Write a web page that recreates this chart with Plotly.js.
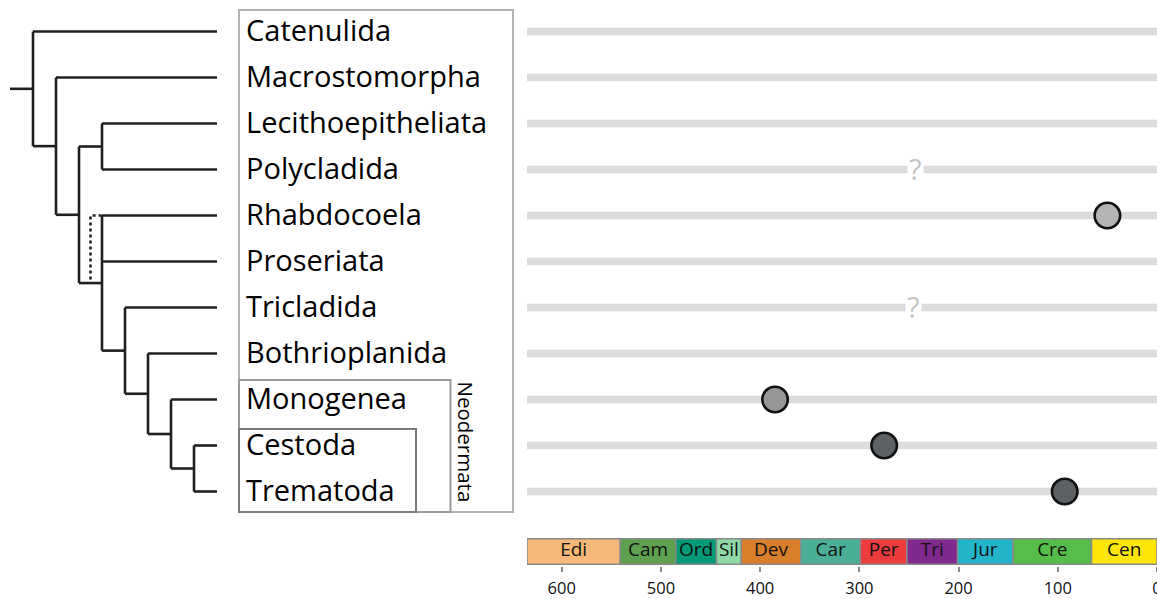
<!DOCTYPE html>
<html><head><meta charset="utf-8">
<script src="https://cdn.plot.ly/plotly-3.0.1.min.js"></script>
<style>html,body{margin:0;padding:0;background:#fff}#chart{width:1157px;height:599px}</style>
</head><body><div id="chart"></div>
<script>
// ---------------- data ----------------
const taxa = ['Catenulida','Macrostomorpha','Lecithoepitheliata','Polycladida','Rhabdocoela','Proseriata','Tricladida','Bothrioplanida','Monogenea','Cestoda','Trematoda'];

// tree topology: internal nodes, branching rank, children (first..last)
const nodeNames = ['A','B','C','D','E','F','G','H','I'];
const nodeLevels = [1,2,3,4,4,5,6,7,8];
const nodeChildren = [
  ['Catenulida','B'],
  ['Macrostomorpha','C'],
  ['D','E'],
  ['Lecithoepitheliata','Polycladida'],
  ['Rhabdocoela','Proseriata','F'],
  ['Tricladida','G'],
  ['Bothrioplanida','H'],
  ['Monogenea','I'],
  ['Cestoda','Trematoda']
];
const tipLevel = 9;
const rootLevel = 0;
// alternative (dotted) attachment of Rhabdocoela
const altTaxon = 'Rhabdocoela';
const altNode = 'E';
const altLevel = 3.5;

// fossil records (Ma)
const fossilTaxa = ['Rhabdocoela','Monogenea','Cestoda','Trematoda'];
const fossilAges = [50, 385, 275, 93];
const fossilGroup = ['light','mid','dark','dark'];
// uncertain records
const uncertainTaxa = ['Polycladida','Tricladida'];
const uncertainAges = [243, 245];

// geological timescale (Ma)
const periodNames = ['Edi','Cam','Ord','Sil','Dev','Car','Per','Tri','Jur','Cre','Cen'];
const periodStart = [635,541,485,444,419,359,299,252,201,145,66];
const periodEnd   = [541,485,444,419,359,299,252,201,145,66,0];
const ageTicks = [600,500,400,300,200,100,0];

// ---------------- styles ----------------
const periodColors = ['#F8B879','#5FA050','#009A76','#90D8A6','#D97F2C','#4BAF97','#EE3C3E','#80298F','#22B5CA','#55BD4A','#FFE60A'];
const groupColors = {light:'#B3B4B4', mid:'#959797', dark:'#5D6163'};
const W = 1157, H = 599;
const ROW0 = 31.5, ROWH = 46;
const TREE_X0 = 10, LEVEL_W = 23;
const FONT = 'Open Sans, sans-serif';
const px2x = p => p / W;
const px2y = p => 1 - p / H;

// ---------------- tree geometry ----------------
const nodeIdx = {}; nodeNames.forEach((n,i)=>nodeIdx[n]=i);
function yOf(name){
  const t = taxa.indexOf(name);
  if (t >= 0) return t;
  const ch = nodeChildren[nodeIdx[name]];
  return (yOf(ch[0]) + yOf(ch[ch.length-1]))/2;
}
function levelOf(name){
  return taxa.indexOf(name) >= 0 ? tipLevel : nodeLevels[nodeIdx[name]];
}
const tx = [], ty = [];
function seg(x0,y0,x1,y1){ tx.push(x0,x1,null); ty.push(y0,y1,null); }
seg(rootLevel, yOf('A'), levelOf('A'), yOf('A'));
nodeNames.forEach((n,i)=>{
  const lv = nodeLevels[i], ch = nodeChildren[i];
  seg(lv, yOf(ch[0]), lv, yOf(ch[ch.length-1]));
  ch.forEach(c => seg(lv, yOf(c), levelOf(c), yOf(c)));
});
const dx = [altLevel, altLevel, levelOf(altNode)];
const dy = [yOf(altNode)-0.08, yOf(altTaxon), yOf(altTaxon)];

// ---------------- traces ----------------
const bx = [], by = [];
taxa.forEach((t,i)=>{ bx.push(periodStart[0], 0, null); by.push(i,i,null); });

const traces = [
  {type:'scatter', mode:'lines', x:bx, y:by, xaxis:'x', yaxis:'y',
   line:{color:'#DCDCDC', width:7.5}, hoverinfo:'skip'},
  {type:'scatter', mode:'lines', x:tx, y:ty, xaxis:'x2', yaxis:'y',
   line:{color:'#231F20', width:2.6}, hoverinfo:'skip'},
  {type:'scatter', mode:'lines', x:dx, y:dy, xaxis:'x2', yaxis:'y',
   line:{color:'#231F20', width:2.6, dash:'dot'}, hoverinfo:'skip'},
  {type:'scatter', mode:'markers', x:fossilAges, y:fossilTaxa.map(t=>taxa.indexOf(t)), xaxis:'x', yaxis:'y',
   marker:{size:25.5, color:fossilGroup.map(g=>groupColors[g]), line:{color:'#111111', width:2.6}},
   cliponaxis:false, hoverinfo:'skip'},
  {type:'bar', orientation:'h', y:periodNames.map(()=>0), x:periodStart.map((s,i)=>s-periodEnd[i]),
   base:periodEnd, width:1, xaxis:'x', yaxis:'y2',
   marker:{color:periodColors, line:{color:'#8A8A8A', width:1.5}}, hoverinfo:'skip'},
  {type:'scatter', mode:'text', x:periodStart.map((s,i)=>(s+periodEnd[i])/2), y:periodNames.map(()=>0),
   text:periodNames, xaxis:'x', yaxis:'y2', cliponaxis:false,
   textfont:{family:FONT, size:19, color:'#111'}, hoverinfo:'skip'}
];

// ---------------- annotations ----------------
const annotations = [];
taxa.forEach((t,i)=>annotations.push({
  text:t, xref:'paper', yref:'y', x:px2x(244), y:i, xanchor:'left', yanchor:'middle', yshift:2,
  showarrow:false, font:{family:FONT, size:29, color:'#000'}
}));
uncertainTaxa.forEach((t,i)=>annotations.push({
  text:'?', xref:'x', yref:'y', x:uncertainAges[i], y:taxa.indexOf(t), xanchor:'center', yanchor:'middle', yshift:1,
  showarrow:false, bgcolor:'#FFFFFF', borderpad:1, font:{family:FONT, size:29, color:'#C4C4C4'}
}));
annotations.push({
  text:'Neodermata', xref:'paper', yref:'paper', x:px2x(465.5), y:px2y(442), textangle:90,
  xanchor:'center', yanchor:'middle',
  showarrow:false, font:{family:FONT, size:20.5, color:'#000'}
});

// ---------------- boxes ----------------
function rect(x0,y0,x1,y1,color){
  return {type:'rect', xref:'paper', yref:'paper', x0:px2x(x0), x1:px2x(x1), y0:px2y(y0), y1:px2y(y1),
          line:{color:color, width:2}, fillcolor:'rgba(0,0,0,0)', layer:'above'};
}
const shapes = [
  rect(239, 10, 513, 512, '#B2B2B2'),
  rect(239, 380, 450.5, 512, '#9A9A9A'),
  rect(239, 429, 416, 512, '#7A7A7A')
];

const layout = {
  width:W, height:H, margin:{l:0,r:0,t:0,b:0},
  paper_bgcolor:'#FFFFFF', plot_bgcolor:'rgba(0,0,0,0)', showlegend:false,
  xaxis:{domain:[px2x(527),1], range:[periodStart[0],0], anchor:'y2',
         tickvals:ageTicks, ticktext:ageTicks.map(String), ticks:'outside', ticklen:5, tickwidth:2,
         tickcolor:'#8A8A8A', tickfont:{family:FONT, size:16.5, color:'#111'},
         showgrid:false, zeroline:false, showline:false, ticklabelstandoff:3, ticklabeloverflow:'allow', fixedrange:true},
  xaxis2:{domain:[0,1], range:[-TREE_X0/LEVEL_W, (W-TREE_X0)/LEVEL_W], anchor:'y', visible:false, fixedrange:true},
  yaxis:{domain:[0,1], range:[(H-ROW0)/ROWH, -ROW0/ROWH], visible:false, fixedrange:true},
  yaxis2:{domain:[px2y(565.5), px2y(537.5)], range:[-0.55,0.55], visible:false, fixedrange:true},
  annotations:annotations, shapes:shapes
};

Plotly.newPlot('chart', traces, layout, {displayModeBar:false, staticPlot:true});
</script>
</body></html>
